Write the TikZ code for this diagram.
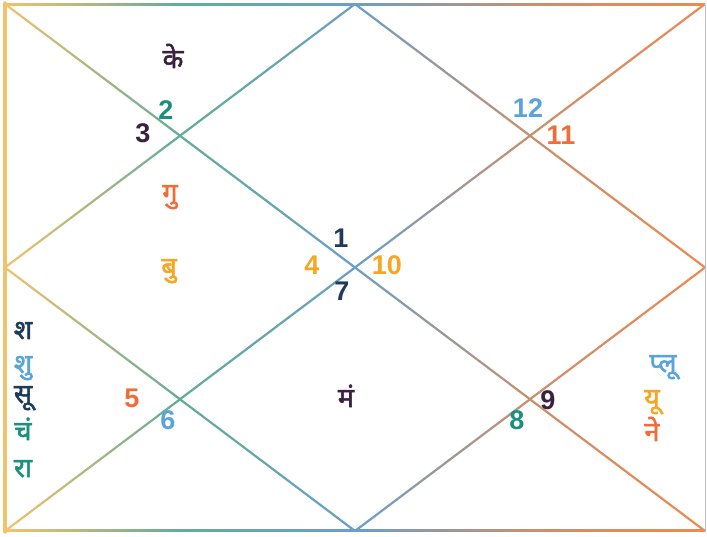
\documentclass[tikz,border=0pt]{standalone}
\usepackage{fontspec}
\setmainfont{Liberation Sans}
\newfontfamily\deva[Script=Devanagari,FakeBold=2]{Noto Sans}
\usetikzlibrary{calc}

\definecolor{gA}{HTML}{F3C36C}
\definecolor{gB}{HTML}{62AC98}
\definecolor{gC}{HTML}{6A9FC8}
\definecolor{gD}{HTML}{C8906E}
\definecolor{gE}{HTML}{EE8A52}
\definecolor{cdark}{HTML}{3B2140}
\definecolor{cnavy}{HTML}{1E3A5C}
\definecolor{cteal}{HTML}{1C907E}
\definecolor{cblue}{HTML}{5AA4DC}
\definecolor{cred}{HTML}{F06C38}
\definecolor{cyel}{HTML}{F6A623}

\pgfdeclarehorizontalshading{chartgrad}{100bp}{color(0bp)=(gA); color(25bp)=(gA); color(37.5bp)=(gB); color(50bp)=(gC); color(62.5bp)=(gD); color(75bp)=(gE); color(100bp)=(gE)}

% gradient line between two named points
\newcommand{\gradline}[2]{%
  \begin{scope}
    \clip ($(#1)!\lw!90:(#2)$) -- ($(#2)!\lw!-90:(#1)$) -- ($(#2)!\lw!90:(#1)$) -- ($(#1)!\lw!-90:(#2)$) -- cycle;
    \shade[shading=chartgrad] (tl) rectangle (br);
  \end{scope}}

\begin{document}
\begin{tikzpicture}[x=1pt, y=-1pt, line join=round, line cap=round]
\tikzset{num/.style={font=\bfseries\fontsize{27}{27}\selectfont, inner sep=0pt},
  graha/.style={font=\deva\fontsize{27}{27}\selectfont, inner sep=0pt, anchor=base}}
\def\lw{1.1pt}
\fill[white] (0,0) rectangle (707,537);
\useasboundingbox (0,0) rectangle (707,537);
%Các điểm của khung
\coordinate (tl) at (5,4);
\coordinate (tr) at (705,4);
\coordinate (bl) at (5,531);
\coordinate (br) at (705,531);
\coordinate (tm) at (355,4);
\coordinate (bm) at (355,531);
\coordinate (lm) at (5,267.5);
\coordinate (rm) at (705,267.5);

%Đường chéo và hình thoi
\gradline{tl}{br}
\gradline{tr}{bl}
\gradline{tm}{rm}
\gradline{rm}{bm}
\gradline{bm}{lm}
\gradline{lm}{tm}

%Viền ngoài
\begin{scope}
  \clip (3,2) rectangle (705,6);
  \shade[shading=chartgrad] (tl) rectangle (br);
\end{scope}
\begin{scope}
  \clip (3,529) rectangle (705,533);
  \shade[shading=chartgrad] (tl) rectangle (br);
\end{scope}
\draw[gA, line width=3.5pt] (5,3) -- (5,532);
\draw[black!25, line width=1.5pt] (705.5,6) -- (705.5,531);

%Số nhà
\node[num, text=cnavy] (n1) at (341,238) {1};
\node[num, text=cteal] (n2) at (166,110) {2};
\node[num, text=cdark] (n3) at (143,133) {3};
\node[num, text=cyel] (n4) at (312,265) {4};
\node[num, text=cred] (n5) at (132,398) {5};
\node[num, text=cblue] (n6) at (168,420) {6};
\node[num, text=cnavy] (n7) at (342,291) {7};
\node[num, text=cteal] (n8) at (517,420) {8};
\node[num, text=cdark] (n9) at (548,400) {9};
\node[num, text=cyel] (n10) at (387,265) {10};
\node[num, text=cred] (n11) at (561,135) {11};
\node[num, text=cblue] (n12) at (528,108) {12};

%Các hành tinh (vị trí theo đường chân chữ)
\node[graha, text=cdark] (ke) at (173,68) {के};
\node[graha, text=cred] (gu) at (170,202) {गु};
\node[graha, text=cyel] (bu) at (169,276) {बु};
\node[graha, text=cdark] (ma) at (346,407) {मं};
\node[graha, text=cnavy] (sha) at (23,339) {श};
\node[graha, text=cblue] (shu) at (23,373) {शु};
\node[graha, text=cnavy] (su) at (23,403) {सू};
\node[graha, text=cteal] (cha) at (23,440) {चं};
\node[graha, text=cteal] (ra) at (23,477) {रा};
\node[graha, text=cblue] (plu) at (663,372) {प्लू};
\node[graha, text=cyel] (yu) at (652,407) {यू};
\node[graha, text=cred] (ne) at (652,441) {ने};
\end{tikzpicture}
\end{document}
